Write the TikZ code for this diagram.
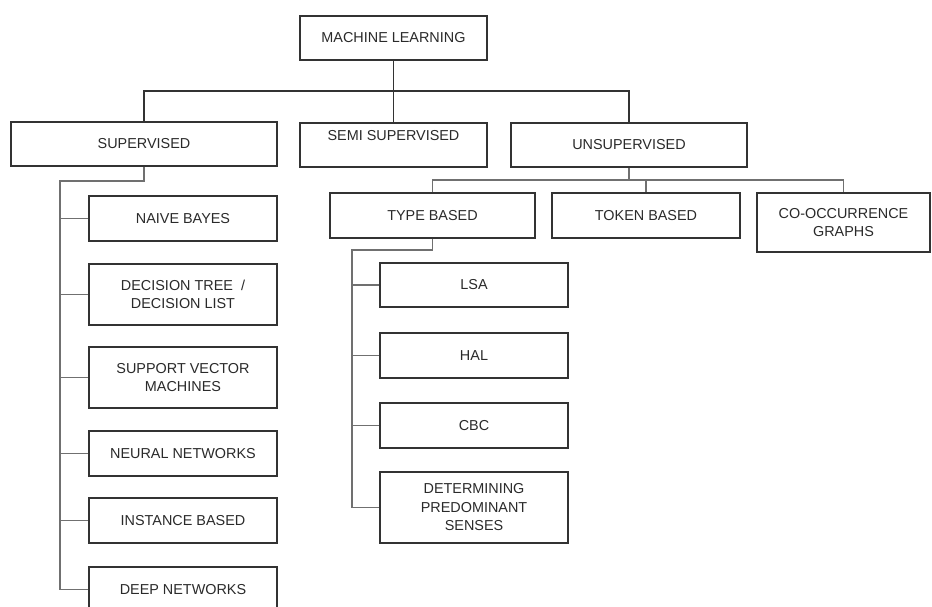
\documentclass[tikz,border=0pt]{standalone}
\usepackage{fontspec}
\setmainfont{Liberation Sans}
\definecolor{boxline}{HTML}{333333}
\definecolor{conline}{HTML}{707070}
\definecolor{txt}{HTML}{2A2A2A}
\begin{document}
\begin{tikzpicture}[x=1pt,y=-1pt,
  box/.style={draw=boxline,line width=1.3pt,inner sep=0pt,align=center,text=txt,
    font=\fontsize{14.4}{18.5}\selectfont},
  plain/.style={inner sep=0pt,align=center,text=txt,font=\fontsize{14.4}{18.5}\selectfont},
  con/.style={draw=conline,line width=1.3pt}]
\useasboundingbox (0,0) rectangle (932,606);
\fill[white] (0,0) rectangle (932,606);
% top levels
\node[box,minimum width=187,minimum height=44] (ml) at (393.5,38) {MACHINE LEARNING};
\node[box,minimum width=266,minimum height=44] (sup) at (144,144) {SUPERVISED};
\node[box,minimum width=187,minimum height=44] (semi) at (393.5,145) {};
\node[plain] (semitxt) at (393.5,136) {SEMI SUPERVISED};
\node[box,minimum width=236,minimum height=44] (unsup) at (629,145) {UNSUPERVISED};
% unsupervised children
\node[box,minimum width=205,minimum height=45] (type) at (432.5,215.5) {TYPE BASED};
\node[box,minimum width=188,minimum height=45] (token) at (646,215.5) {TOKEN BASED};
\node[box,minimum width=173,minimum height=59] (cooc) at (843.5,222.5) {CO-OCCURRENCE\\GRAPHS};
% supervised children
\node[box,minimum width=188,minimum height=45] (nb) at (183,218.5) {NAIVE BAYES};
\node[box,minimum width=188,minimum height=61] (dt) at (183,294.5) {DECISION TREE~ /\\DECISION LIST};
\node[box,minimum width=188,minimum height=61] (svm) at (183,377.5) {SUPPORT VECTOR\\MACHINES};
\node[box,minimum width=188,minimum height=45] (nn) at (183,453.5) {NEURAL NETWORKS};
\node[box,minimum width=188,minimum height=45] (ib) at (183,520.5) {INSTANCE BASED};
\node[box,minimum width=188,minimum height=45] (dn) at (183,589.5) {DEEP NETWORKS};
% type based children
\node[box,minimum width=188,minimum height=44] (lsa) at (474,285) {LSA};
\node[box,minimum width=188,minimum height=45] (hal) at (474,355.5) {HAL};
\node[box,minimum width=188,minimum height=45] (cbc) at (474,425.5) {CBC};
\node[box,minimum width=188,minimum height=71] (det) at (474,507.5) {DETERMINING\\PREDOMINANT\\SENSES};
% junctions
\coordinate (j1) at (394,91);
\coordinate (sb) at (60,181);
\coordinate (ub) at (629,180);
\coordinate (tb) at (352,250);
% connectors
\draw[con,draw=boxline] (ml.south) -- (semi.north);
\draw[con,draw=boxline] (sup.north) |- (j1) -| (unsup.north);
\draw[con] (sup.south) |- (sb) |- (dn.west);
\foreach \n in {nb,dt,svm,nn,ib} \draw[con] (sb) |- (\n.west);
\draw[con] (unsup.south) -- (ub);
\draw[con] (type.north) |- (ub) -| (cooc.north);
\draw[con] (ub) -| (token.north);
\draw[con] (type.south) |- (tb) |- (det.west);
\foreach \n in {lsa,hal,cbc} \draw[con] (tb) |- (\n.west);
\end{tikzpicture}
\end{document}
